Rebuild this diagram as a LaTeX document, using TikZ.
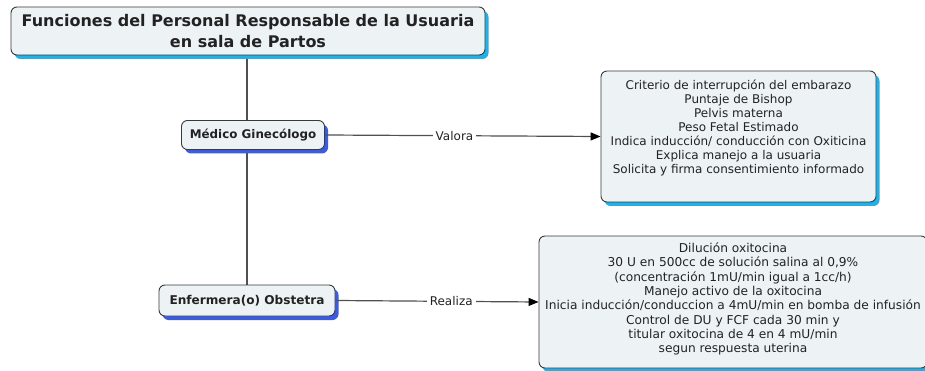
\documentclass[tikz,border=0pt]{standalone}
\usepackage{fontspec}
\setmainfont{DejaVu Sans}
\usetikzlibrary{arrows.meta,shadows,backgrounds}
\definecolor{boxfill}{HTML}{EDF3F5}
\definecolor{cyansh}{HTML}{22B0E6}
\definecolor{bluesh}{HTML}{3A5CE0}
\definecolor{edge}{HTML}{3A3A3A}
\definecolor{conn}{HTML}{505050}
\definecolor{txt}{HTML}{222222}
\tikzset{
  basebox/.style={draw=edge, line width=0.9pt, fill=boxfill, rounded corners=6pt, inner sep=0pt, align=center, text=txt},
  cyanbox/.style={basebox, drop shadow={shadow xshift=3.5pt, shadow yshift=-4pt, fill=cyansh, opacity=1}},
  bluebox/.style={basebox, drop shadow={shadow xshift=3.5pt, shadow yshift=-4pt, fill=bluesh, opacity=1}},
  conn/.style={draw=conn, line width=1.2pt},
  arr/.style={conn, -{Triangle[length=10pt,width=8pt,fill=black,color=black]}},
  lbl/.style={fill=white, inner xsep=3pt, inner ysep=1pt, font=\fontsize{12}{14}\selectfont, text=txt}
}
\begin{document}
\begin{tikzpicture}[x=1pt,y=-1pt]
\useasboundingbox (0,0) rectangle (925,371);
\node[cyanbox, minimum width=474pt, minimum height=48pt, font=\bfseries\fontsize{16}{21}\selectfont] (title) at (248,31)
  {Funciones del Personal Responsable de la Usuaria\\en sala de Partos};
\node[bluebox, minimum width=143pt, minimum height=29pt, font=\bfseries\fontsize{11.9}{14}\selectfont] (med) at (253,135) {Médico Ginecólogo};
\node[bluebox, minimum width=176pt, minimum height=31pt, font=\bfseries\fontsize{12.1}{14}\selectfont] (enf) at (247,300.5) {Enfermera(o) Obstetra};
\node[cyanbox, minimum width=275pt, minimum height=131pt, font=\fontsize{12}{14}\selectfont] (val) at (738.5,136.5)
  {Criterio de interrupción del embarazo\\Puntaje de Bishop\\Pelvis materna\\Peso Fetal Estimado\\Indica inducción/ conducción con Oxiticina\\Explica manejo a la usuaria\\Solicita y firma consentimiento informado\\[6pt]};
\node[cyanbox, minimum width=388pt, minimum height=132pt, font=\fontsize{12.2}{14.3}\selectfont] (rea) at (733,302)
  {Dilución oxitocina\\30 U en 500cc de solución salina al 0,9\%\\(concentración 1mU/min igual a 1cc/h)\\Manejo activo de la oxitocina\\Inicia inducción/conduccion a 4mU/min en bomba de infusión\\Control de DU y FCF cada 30 min y\\titular oxitocina de 4 en 4 mU/min\\segun respuesta uterina\\[-6pt]};
\begin{scope}[on background layer]
\draw[conn] (title.south -| enf.north) -- (enf.north);
\end{scope}
\draw[arr] (med.east) -- node[lbl, pos=0.47] {Valora} (val.west);
\draw[arr] (enf.east) -- node[lbl, pos=0.57] {Realiza} (rea.west);
\end{tikzpicture}
\end{document}
